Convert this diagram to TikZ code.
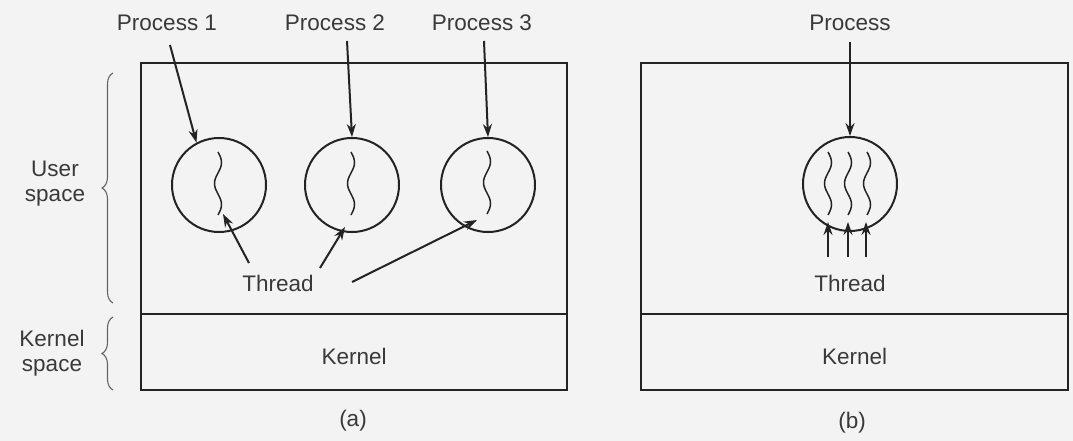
\documentclass[tikz,border=0pt]{standalone}
\usepackage{fontspec}
\setmainfont{Liberation Sans}
\usetikzlibrary{arrows.meta,calc,decorations.pathreplacing}
\definecolor{ink}{RGB}{35,35,35}
\definecolor{bg}{RGB}{243,243,243}
\newcommand\mysquig[2]{\draw[sq] plot[domain=0:1,samples=50,smooth] ({#1+3.5*sin(\x*540)},{#2+\x*63});}
\begin{document}
\begin{tikzpicture}[x=1pt,y=-1pt,
  lbl/.style={font=\fontsize{22.5}{25}\selectfont, text=ink!90, inner sep=0pt, align=center},
  box/.style={draw=ink, line width=2.2pt, inner sep=0pt, anchor=north west},
  proc/.style={circle, draw=ink, line width=2pt, minimum size=94pt, inner sep=0pt},
  arr/.style={draw=ink, line width=2pt, -{Stealth[length=13pt,width=9pt]}},
  brc/.style={draw=ink!70, line width=1.1pt, decorate, decoration={brace, amplitude=11pt}},
  sq/.style={draw=ink, line width=1.5pt}]
\fill[bg] (0,0) rectangle (1073,441);
\useasboundingbox (0,0) rectangle (1073,441);

% ---------- (a) ----------
\node[box, minimum width=426pt, minimum height=251pt] (ua) at (140,62) {};
\node[box, minimum width=426pt, minimum height=76pt] (ka) at (140,313) {};
\node[lbl] (kta) at ($(ka.center)+(0,4)$) {Kernel};
\node[lbl] (capa) at (353,421) {(a)};

\node[proc] (c1) at (219,185) {};
\node[proc] (c2) at (352,185) {};
\node[proc] (c3) at (488,185) {};
\mysquig{218}{152}
\mysquig{351}{152}
\mysquig{487}{151}

\node[lbl] (p1) at (167,23) {Process 1};
\node[lbl] (p2) at (335,23) {Process 2};
\node[lbl] (p3) at (482,23) {Process 3};
\coordinate (p1s) at (170,45);
\coordinate (p2s) at (347,41);
\coordinate (p3s) at (484,41);
\draw[arr] (p1s) -- (c1.118);
\draw[arr] (p2s) -- (c2.north);
\draw[arr] (p3s) -- (c3.north);

\node[lbl] (ta) at (278,283) {Thread};
\coordinate (t1s) at (249,263);
\coordinate (t2s) at (320,268);
\coordinate (t3s) at (352,282);
\draw[arr] (t1s) -- ($(c1)+(4,29)$);
\draw[arr] (t2s) -- ($(c2)+(-7,42)$);
\draw[arr] (t3s) -- ($(c3)+(-11,35)$);

% braces
\draw[brc] (113,303) -- (113,73);
\draw[brc] (113,390) -- (113,317);
\node[lbl] (us) at (55,184) {User\\space};
\node[lbl] (ks) at (52,353) {Kernel\\space};

% ---------- (b) ----------
\node[box, minimum width=427pt, minimum height=251pt] (ub) at (640,62) {};
\node[box, minimum width=427pt, minimum height=76pt] (kb) at (640,313) {};
\node[lbl] (ktb) at ($(kb.center)+(0,4)$) {Kernel};
\node[lbl] (capb) at (852,423) {(b)};

\node[proc] (cb) at (850,184) {};
\mysquig{828}{152}
\mysquig{848}{152}
\mysquig{867}{152}

\node[lbl] (pb) at (850,23) {Process};
\coordinate (pbs) at (850,42);
\draw[arr] (pbs) -- (cb.north);

\node[lbl] (tb) at (850,283) {Thread};
\coordinate (u1) at (828,257);
\coordinate (u2) at (848,257);
\coordinate (u3) at (866,257);
\draw[arr] (u1) -- ++(0,-35);
\draw[arr] (u2) -- ++(0,-35);
\draw[arr] (u3) -- ++(0,-35);
\end{tikzpicture}
\end{document}
